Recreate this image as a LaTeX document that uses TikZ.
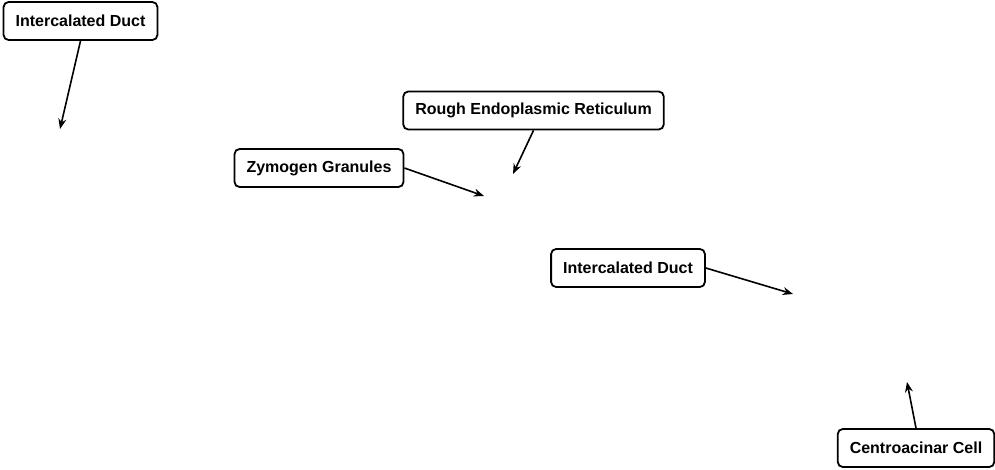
\documentclass[tikz,border=0pt]{standalone}
\usepackage{fontspec}
\setmainfont{Liberation Sans}
\usetikzlibrary{arrows.meta}
\tikzset{label box/.style={draw,line width=1.8pt,rounded corners=5pt,inner xsep=12pt,
    minimum height=38pt,font=\fontsize{16}{19}\selectfont\bfseries},
  pointer/.style={line width=1.6pt,-{Stealth[length=3.6mm,width=2.8mm]}}}

\begin{document}
\begin{tikzpicture}[x=1pt,y=-1pt]
    \useasboundingbox (0,0) rectangle (995,469);
    \node [label box] (duct1) at (80.5,21) {Intercalated Duct};
    \node [label box] (rer) at (533.5,110.5) {Rough Endoplasmic Reticulum};
    \node [label box] (zymo) at (319,168) {Zymogen Granules};
    \node [label box] (duct2) at (628,268) {Intercalated Duct};
    \node [label box] (centro) at (916,448) {Centroacinar Cell};
    \coordinate (tduct1) at (60,129);
    \coordinate (trer) at (513,174);
    \coordinate (tzymo) at (484,196);
    \coordinate (tduct2) at (793,294);
    \coordinate (tcentro) at (907,382);
    \draw [pointer] (duct1.south) -- (tduct1);
    \draw [pointer] (rer.south) -- (trer);
    \draw [pointer] (zymo.east) -- (tzymo);
    \draw [pointer] (duct2.east) -- (tduct2);
    \draw [pointer] (centro.north) -- (tcentro);
\end{tikzpicture}
\end{document}
